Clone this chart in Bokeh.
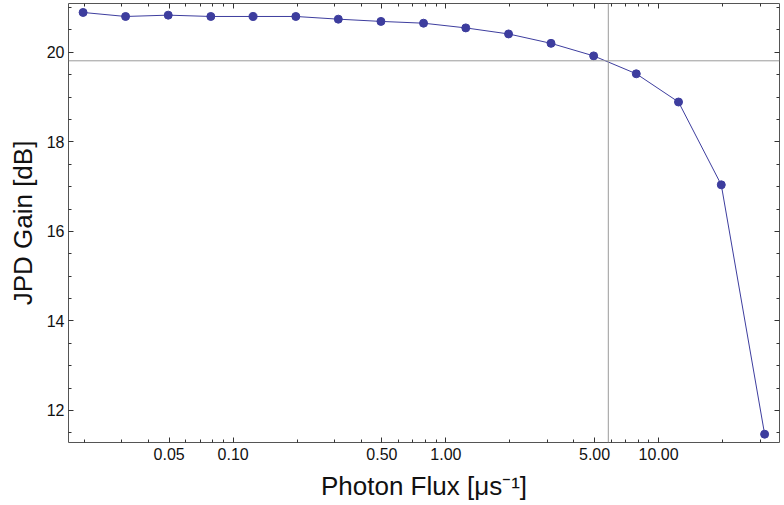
from bokeh.plotting import figure
from bokeh.models import FixedTicker, PrintfTickFormatter, LogAxis, LinearAxis, Span, CustomJSTickFormatter
from bokeh.embed import file_html
from bokeh.resources import INLINE

flux = [0.0197, 0.0312, 0.0495, 0.0785, 0.124, 0.197, 0.312, 0.495, 0.785,
        1.24, 1.97, 3.12, 4.95, 7.85, 12.4, 19.7, 31.5]
gain = [20.89, 20.80, 20.83, 20.80, 20.80, 20.80, 20.74, 20.69, 20.65,
        20.545, 20.41, 20.20, 19.92, 19.52, 18.89, 17.04, 11.47]

x_major = [0.05, 0.1, 0.5, 1, 5, 10]
x_minor = [0.02, 0.03, 0.04, 0.06, 0.07, 0.08, 0.09,
           0.2, 0.3, 0.4, 0.6, 0.7, 0.8, 0.9,
           2, 3, 4, 6, 7, 8, 9, 20, 30]
y_major = [12, 14, 16, 18, 20]
y_minor = [11.5, 12.5, 13, 13.5, 14.5, 15, 15.5, 16.5, 17, 17.5, 18.5, 19, 19.5, 20.5, 21]

ref_gain = 19.81
ref_flux = 5.8

color = "#3D3D9E"
font = "Liberation Sans"

p = figure(width=784, height=505, x_axis_type="log",
           x_range=(0.01682, 37.0), y_range=(11.285, 21.09),
           output_backend="svg", toolbar_location=None,
           min_border_left=68, min_border_right=5, min_border_top=3, min_border_bottom=63)
p.grid.visible = False
p.outline_line_color = "#555555"
p.outline_line_width = 1
p.background_fill_color = "white"
p.border_fill_color = "white"

def style(ax, ticks, minor, labels=True):
    ax.ticker = FixedTicker(ticks=ticks, minor_ticks=minor)
    ax.axis_line_color = None
    ax.major_tick_in = 5
    ax.major_tick_out = 0
    ax.minor_tick_in = 3
    ax.minor_tick_out = 0
    ax.major_tick_line_color = "#333333"
    ax.minor_tick_line_color = "#333333"
    ax.major_label_text_font = font
    ax.major_label_text_font_size = "16px"
    ax.major_label_text_color = "#111111"
    ax.axis_label_text_font = font
    ax.axis_label_text_font_size = "26px"
    ax.axis_label_text_font_style = "normal"
    ax.axis_label_text_color = "#111111"
    if not labels:
        ax.formatter = CustomJSTickFormatter(code="return ''")
        ax.major_label_standoff = 0
        ax.axis_label_standoff = 0

xa = p.xaxis[0]
style(xa, x_major, x_minor)
xa.formatter = PrintfTickFormatter(format="%.2f")
xa.major_label_standoff = 5
xa.axis_label = "Photon Flux [μs⁻¹]"
xa.axis_label_standoff = 8

ya = p.yaxis[0]
style(ya, y_major, y_minor)
ya.major_label_standoff = 4
ya.axis_label = "JPD Gain [dB]"
ya.axis_label_standoff = 6

top = LogAxis()
style(top, x_major, x_minor, labels=False)
p.add_layout(top, "above")
right = LinearAxis()
style(right, y_major, y_minor, labels=False)
p.add_layout(right, "right")

p.add_layout(Span(location=ref_gain, dimension="width", line_color="#9a9a9a", line_width=1))
p.add_layout(Span(location=ref_flux, dimension="height", line_color="#9a9a9a", line_width=1))

p.line(flux, gain, line_color=color, line_width=1)
p.scatter(flux, gain, size=8, fill_color=color, line_color=color)

open("out.html", "w").write(file_html(p, INLINE))
